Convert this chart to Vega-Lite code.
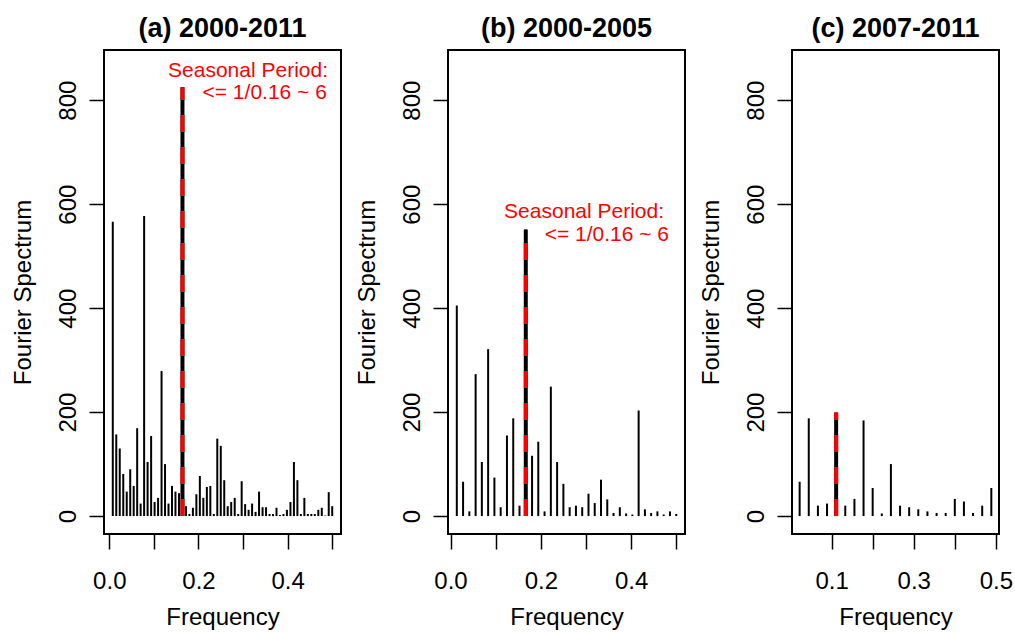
{
  "$schema": "https://vega.github.io/schema/vega-lite/v6.json",
  "background": "white",
  "padding": {"left": 10, "top": 14, "right": 0, "bottom": 0},
  "bounds": "flush",
  "spacing": 107,
  "config": {
    "font": "Liberation Sans",
    "view": {"stroke": "black", "strokeWidth": 2},
    "title": {"font": "Liberation Sans", "fontSize": 27, "fontWeight": "bold", "color": "black", "anchor": "middle", "offset": 7},
    "axis": {
      "domain": false, "grid": false,
      "tickColor": "black", "tickWidth": 1.5, "tickSize": 15,
      "labelFont": "Liberation Sans", "labelFontSize": 24, "labelColor": "black",
      "titleFont": "Liberation Sans", "titleFontSize": 24, "titleFontWeight": "normal", "titleColor": "black"
    },
    "axisX": {"labelPadding": 20, "titlePadding": 12, "labelFlush": false, "labelOverlap": false},
    "axisY": {"labelAngle": 270, "labelPadding": 9, "titlePadding": 21, "labelOverlap": false}
  },
  "datasets": {
    "a": [
      {"f": 0.0078, "v": 566}, {"f": 0.0156, "v": 157}, {"f": 0.0234, "v": 130}, {"f": 0.0313, "v": 81},
      {"f": 0.0391, "v": 47}, {"f": 0.0469, "v": 90}, {"f": 0.0547, "v": 58}, {"f": 0.0625, "v": 169},
      {"f": 0.0703, "v": 24}, {"f": 0.0781, "v": 577}, {"f": 0.0859, "v": 104}, {"f": 0.0938, "v": 154},
      {"f": 0.1016, "v": 27}, {"f": 0.1094, "v": 35}, {"f": 0.1172, "v": 279}, {"f": 0.125, "v": 100},
      {"f": 0.1328, "v": 24}, {"f": 0.1406, "v": 58}, {"f": 0.1484, "v": 47}, {"f": 0.1563, "v": 44},
      {"f": 0.1641, "v": 825}, {"f": 0.1719, "v": 19}, {"f": 0.1797, "v": 4}, {"f": 0.1875, "v": 16},
      {"f": 0.1953, "v": 42}, {"f": 0.2031, "v": 77}, {"f": 0.2109, "v": 35}, {"f": 0.2188, "v": 56},
      {"f": 0.2266, "v": 58}, {"f": 0.2344, "v": 4}, {"f": 0.2422, "v": 149}, {"f": 0.25, "v": 135},
      {"f": 0.2578, "v": 69}, {"f": 0.2656, "v": 19}, {"f": 0.2734, "v": 27}, {"f": 0.2813, "v": 35},
      {"f": 0.2891, "v": 4}, {"f": 0.2969, "v": 67}, {"f": 0.3047, "v": 23}, {"f": 0.3125, "v": 12},
      {"f": 0.3203, "v": 24}, {"f": 0.3281, "v": 8}, {"f": 0.3359, "v": 47}, {"f": 0.3438, "v": 17},
      {"f": 0.3516, "v": 17}, {"f": 0.3594, "v": 4}, {"f": 0.3672, "v": 4}, {"f": 0.375, "v": 16},
      {"f": 0.3828, "v": 2}, {"f": 0.3906, "v": 4}, {"f": 0.3984, "v": 12}, {"f": 0.4063, "v": 27},
      {"f": 0.4141, "v": 104}, {"f": 0.4219, "v": 69}, {"f": 0.4297, "v": 4}, {"f": 0.4375, "v": 35},
      {"f": 0.4453, "v": 4}, {"f": 0.4531, "v": 4}, {"f": 0.4609, "v": 4}, {"f": 0.4688, "v": 12},
      {"f": 0.4766, "v": 16}, {"f": 0.4844, "v": 1}, {"f": 0.4922, "v": 46}, {"f": 0.5, "v": 19}
    ],
    "b": [
      {"f": 0.0139, "v": 405}, {"f": 0.0278, "v": 66}, {"f": 0.0417, "v": 9}, {"f": 0.0556, "v": 273},
      {"f": 0.0694, "v": 104}, {"f": 0.0833, "v": 321}, {"f": 0.0972, "v": 74}, {"f": 0.1111, "v": 17},
      {"f": 0.125, "v": 155}, {"f": 0.1389, "v": 188}, {"f": 0.1528, "v": 20}, {"f": 0.1667, "v": 551},
      {"f": 0.1806, "v": 116}, {"f": 0.1944, "v": 143}, {"f": 0.2083, "v": 9}, {"f": 0.2222, "v": 249},
      {"f": 0.2361, "v": 104}, {"f": 0.25, "v": 62}, {"f": 0.2639, "v": 17}, {"f": 0.2778, "v": 20},
      {"f": 0.2917, "v": 17}, {"f": 0.3056, "v": 43}, {"f": 0.3194, "v": 25}, {"f": 0.3333, "v": 70},
      {"f": 0.3472, "v": 32}, {"f": 0.3611, "v": 6}, {"f": 0.375, "v": 17}, {"f": 0.3889, "v": 5},
      {"f": 0.4028, "v": 3}, {"f": 0.4167, "v": 203}, {"f": 0.4306, "v": 13}, {"f": 0.4444, "v": 6},
      {"f": 0.4583, "v": 9}, {"f": 0.4722, "v": 3}, {"f": 0.4861, "v": 9}, {"f": 0.5, "v": 4}
    ],
    "c": [
      {"f": 0.0222, "v": 66}, {"f": 0.0444, "v": 188}, {"f": 0.0667, "v": 20}, {"f": 0.0889, "v": 24},
      {"f": 0.1111, "v": 199}, {"f": 0.1333, "v": 20}, {"f": 0.1556, "v": 33}, {"f": 0.1778, "v": 184},
      {"f": 0.2, "v": 54}, {"f": 0.2222, "v": 5}, {"f": 0.2444, "v": 100}, {"f": 0.2667, "v": 20},
      {"f": 0.2889, "v": 17}, {"f": 0.3111, "v": 13}, {"f": 0.3333, "v": 9}, {"f": 0.3556, "v": 6},
      {"f": 0.3778, "v": 6}, {"f": 0.4, "v": 33}, {"f": 0.4222, "v": 28}, {"f": 0.4444, "v": 6},
      {"f": 0.4667, "v": 20}, {"f": 0.4889, "v": 54}
    ],
    "peakA": [{"f": 0.1641, "v": 825}],
    "peakB": [{"f": 0.1667, "v": 551}],
    "peakC": [{"f": 0.1111, "v": 199}],
    "noteA": [
      {"f": 0.4906, "v": 857, "label": "Seasonal Period:"},
      {"f": 0.488, "v": 814, "label": "<= 1/0.16 ~ 6"}
    ],
    "noteB": [
      {"f": 0.473, "v": 584, "label": "Seasonal Period:"},
      {"f": 0.484, "v": 541, "label": "<= 1/0.16 ~ 6"}
    ]
  },
  "hconcat": [
    {
      "width": 237, "height": 484,
      "title": "(a) 2000-2011",
      "encoding": {
        "x": {"field": "f", "type": "quantitative", "title": "Frequency",
              "scale": {"domain": [-0.0119, 0.5197], "nice": false, "zero": false},
              "axis": {"values": [0, 0.1, 0.2, 0.3, 0.4, 0.5], "format": ".1f", "labelExpr": "round(datum.value*10) % 2 == 0 ? datum.label : ''"}},
        "y": {"field": "v", "type": "quantitative", "title": "Fourier Spectrum",
              "scale": {"domain": [-34.5, 896.5], "nice": false, "zero": false},
              "axis": {"values": [0, 200, 400, 600, 800]}}
      },
      "layer": [
        {"data": {"name": "a"}, "mark": {"type": "rule", "color": "black", "strokeWidth": 2},
         "encoding": {"y2": {"datum": 0}}},
        {"data": {"name": "peakA"}, "mark": {"type": "rule", "color": "black", "strokeWidth": 4},
         "encoding": {"y2": {"datum": 0}}},
        {"data": {"name": "peakA"}, "mark": {"type": "rule", "color": "#ff0000", "strokeWidth": 4, "strokeDash": [17, 15]},
         "encoding": {"y": {"datum": 0, "type": "quantitative"}, "y2": {"field": "v"}}},
        {"data": {"name": "noteA"}, "mark": {"type": "text", "color": "#ff0000", "fontSize": 21, "align": "right", "baseline": "middle", "font": "Liberation Sans"},
         "encoding": {"text": {"field": "label"}}}
      ]
    },
    {
      "width": 237, "height": 484,
      "title": "(b) 2000-2005",
      "encoding": {
        "x": {"field": "f", "type": "quantitative", "title": "Frequency",
              "scale": {"domain": [-0.0056, 0.5194], "nice": false, "zero": false},
              "axis": {"values": [0, 0.1, 0.2, 0.3, 0.4, 0.5], "format": ".1f", "labelExpr": "round(datum.value*10) % 2 == 0 ? datum.label : ''"}},
        "y": {"field": "v", "type": "quantitative", "title": "Fourier Spectrum",
              "scale": {"domain": [-34.5, 896.5], "nice": false, "zero": false},
              "axis": {"values": [0, 200, 400, 600, 800]}}
      },
      "layer": [
        {"data": {"name": "b"}, "mark": {"type": "rule", "color": "black", "strokeWidth": 2},
         "encoding": {"y2": {"datum": 0}}},
        {"data": {"name": "peakB"}, "mark": {"type": "rule", "color": "black", "strokeWidth": 4},
         "encoding": {"y2": {"datum": 0}}},
        {"data": {"name": "peakB"}, "mark": {"type": "rule", "color": "#ff0000", "strokeWidth": 4, "strokeDash": [17, 15]},
         "encoding": {"y": {"datum": 0, "type": "quantitative"}, "y2": {"field": "v"}}},
        {"data": {"name": "noteB"}, "mark": {"type": "text", "color": "#ff0000", "fontSize": 21, "align": "right", "baseline": "middle", "font": "Liberation Sans"},
         "encoding": {"text": {"field": "label"}}}
      ]
    },
    {
      "width": 207, "height": 484,
      "title": "(c) 2007-2011",
      "encoding": {
        "x": {"field": "f", "type": "quantitative", "title": "Frequency",
              "scale": {"domain": [0.0036, 0.5076], "nice": false, "zero": false},
              "axis": {"values": [0.1, 0.2, 0.3, 0.4, 0.5], "format": ".1f", "labelExpr": "round(datum.value*10) % 2 == 1 ? datum.label : ''"}},
        "y": {"field": "v", "type": "quantitative", "title": "Fourier Spectrum",
              "scale": {"domain": [-34.5, 896.5], "nice": false, "zero": false},
              "axis": {"values": [0, 200, 400, 600, 800]}}
      },
      "layer": [
        {"data": {"name": "c"}, "mark": {"type": "rule", "color": "black", "strokeWidth": 2},
         "encoding": {"y2": {"datum": 0}}},
        {"data": {"name": "peakC"}, "mark": {"type": "rule", "color": "black", "strokeWidth": 4},
         "encoding": {"y2": {"datum": 0}}},
        {"data": {"name": "peakC"}, "mark": {"type": "rule", "color": "#ff0000", "strokeWidth": 4, "strokeDash": [17, 15]},
         "encoding": {"y": {"datum": 0, "type": "quantitative"}, "y2": {"field": "v"}}}
      ]
    }
  ]
}
